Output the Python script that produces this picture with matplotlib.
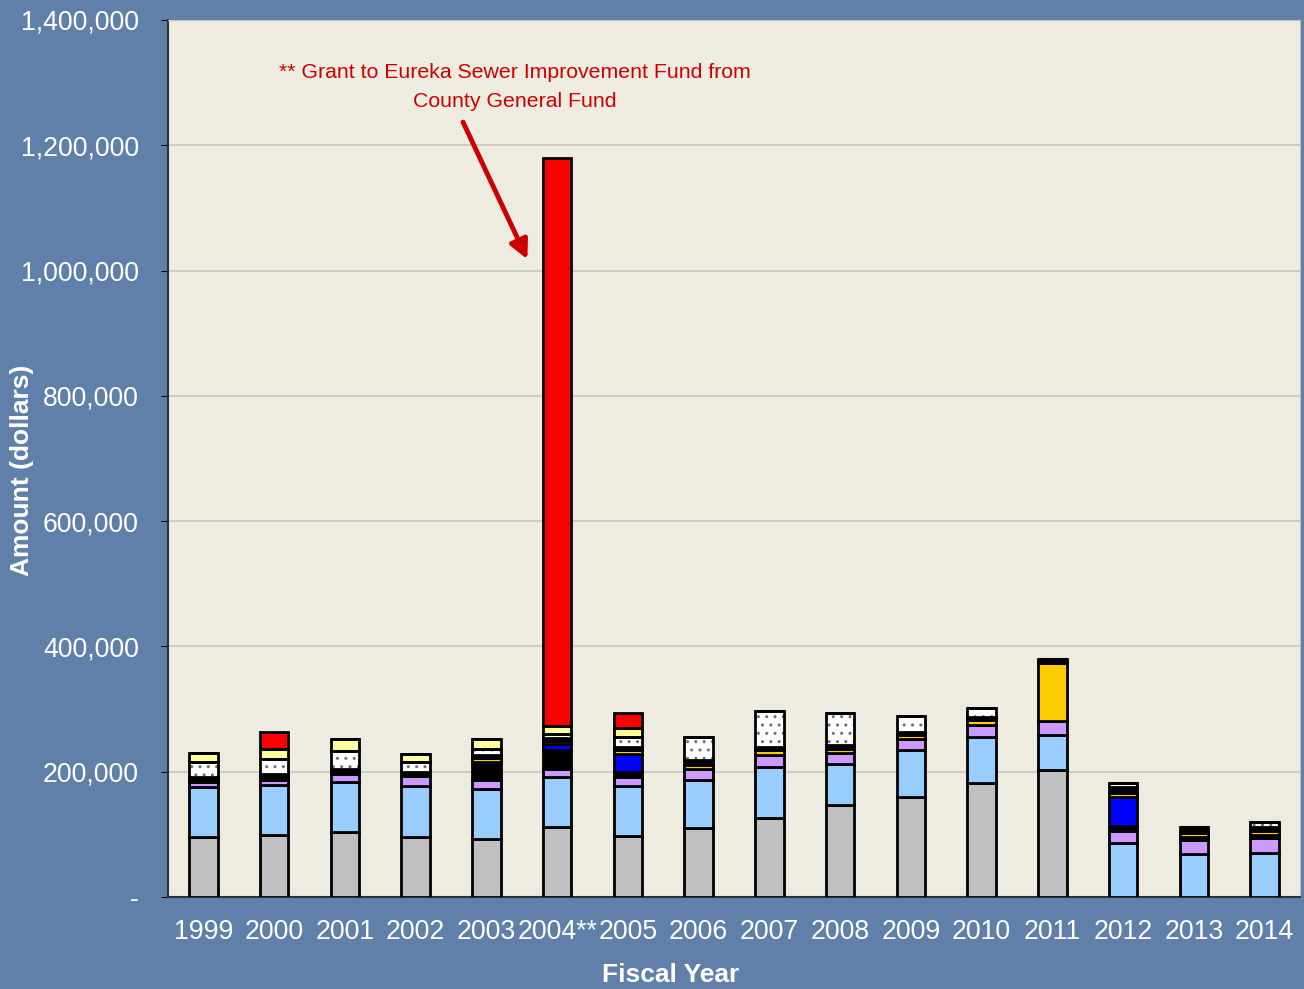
import numpy as np
import matplotlib.pyplot as plt
from matplotlib.ticker import FuncFormatter

plt.rcParams['font.family'] = ['Liberation Sans', 'DejaVu Sans']

years = ["1999", "2000", "2001", "2002", "2003", "2004**", "2005", "2006",
         "2007", "2008", "2009", "2010", "2011", "2012", "2013", "2014"]

# revenue components in thousands of dollars, bottom to top
gray_k     = [96, 99, 104, 96, 93, 112, 97, 110, 126, 147, 160, 182, 202, 0, 0, 0]
ltblue_k   = [80, 79, 80, 81, 79, 80, 80, 77, 82, 65, 74, 73, 57, 86, 69, 70]
lavender_k = [8, 9, 13, 16, 15, 13, 15, 17, 18, 18, 19, 20, 22, 20, 22, 24]
purple_k   = [4, 5, 0, 0, 0, 0, 0, 0, 0, 0, 0, 0, 0, 0, 0, 0]
black_a_k  = [0, 0, 0, 0, 28, 29, 7, 0, 0, 0, 0, 0, 0, 7, 5, 5]
blue_k     = [0, 0, 0, 0, 0, 11, 30, 0, 0, 0, 0, 0, 0, 47, 0, 0]
gold_k     = [0, 0, 0, 0, 7, 4, 6, 6, 8, 7, 6, 7, 92, 6, 6, 6]
black_b_k  = [3, 4, 8, 7, 5, 5, 4, 8, 6, 5, 5, 5, 3, 10, 10, 6]
dotted_k   = [24, 24, 28, 16, 10, 7, 17, 37, 57, 51, 25, 14, 4, 6, 0, 9]
ltyellow_k = [15, 17, 20, 13, 15, 12, 14, 0, 0, 0, 0, 0, 0, 0, 0, 0]
red_k      = [0, 27, 0, 0, 0, 906, 23, 0, 0, 0, 0, 0, 0, 0, 0, 0]

series = [
    (gray_k, "#C0C0C0", False),
    (ltblue_k, "#99CCFF", False),
    (lavender_k, "#CC99FF", False),
    (purple_k, "#800080", False),
    (black_a_k, "#000000", False),
    (blue_k, "#0000FF", False),
    (gold_k, "#FFCC00", False),
    (black_b_k, "#000000", False),
    (dotted_k, "#FFFFFF", True),
    (ltyellow_k, "#FFFF99", False),
    (red_k, "#FF0000", False),
]

BG = "#6080A9"
PLOT_BG = "#EEEBE0"

fig = plt.figure(figsize=(13.04, 9.89), dpi=100, facecolor=BG)
ax = fig.add_axes([168 / 1304, 1 - 897 / 989, 1132 / 1304, 877 / 989])
ax.set_facecolor(PLOT_BG)

x = np.arange(len(years))
w = 0.4
bottom = np.zeros(len(years))
for vals, col, dotted in series:
    v = np.array(vals, dtype=float) * 1000
    if dotted:
        ax.bar(x, v, w, bottom=bottom, color=col, edgecolor="#707070",
               hatch="..", linewidth=0, zorder=3)
        ax.bar(x, v, w, bottom=bottom, color="none", edgecolor="black",
               linewidth=2.0, zorder=4)
    else:
        ax.bar(x, v, w, bottom=bottom, color=col, edgecolor="black",
               linewidth=2.0, zorder=3)
    bottom += v

ax.set_xlim(-0.5, len(years) - 0.5)
ax.set_ylim(0, 1400000)
ax.set_yticks(np.arange(0, 1400001, 200000))
ax.yaxis.set_major_formatter(FuncFormatter(lambda v, p: "-" if v == 0 else f"{v:,.0f}"))
ax.set_xticks(x)
ax.set_xticklabels(years)
ax.tick_params(axis="both", colors="white", labelsize=19.2)
ax.tick_params(axis="x", length=0, pad=16)
ax.tick_params(axis="y", length=5, color="black", pad=16)
ax.grid(axis="y", color="#C8C6C0", linewidth=1.2, zorder=0)
ax.set_axisbelow(True)

for s in ["top", "right"]:
    ax.spines[s].set_color("#BEBEBE")
for s in ["left", "bottom"]:
    ax.spines[s].set_color("#303030")
    ax.spines[s].set_linewidth(1.5)

fig.text(22 / 1304, 1 - 470 / 989, "Amount (dollars)", rotation=90, color="white",
         fontsize=19, fontweight="bold", ha="center", va="center")
fig.text(671 / 1304, 1 - 975 / 989, "Fiscal Year", color="white",
         fontsize=19, fontweight="bold", ha="center", va="center")

ax.text(4.40, 1331000, "** Grant to Eureka Sewer Improvement Fund from\nCounty General Fund",
        color="#CC0000", fontsize=15.3, ha="center", va="top", linespacing=1.62)
ax.annotate("", xy=(4.58, 1018000), xytext=(3.67, 1237000),
            arrowprops=dict(arrowstyle="-|>", color="#CC0000", lw=3.5,
                            mutation_scale=28, shrinkA=0, shrinkB=0))

fig.savefig("out.png", dpi=100, facecolor=BG)
